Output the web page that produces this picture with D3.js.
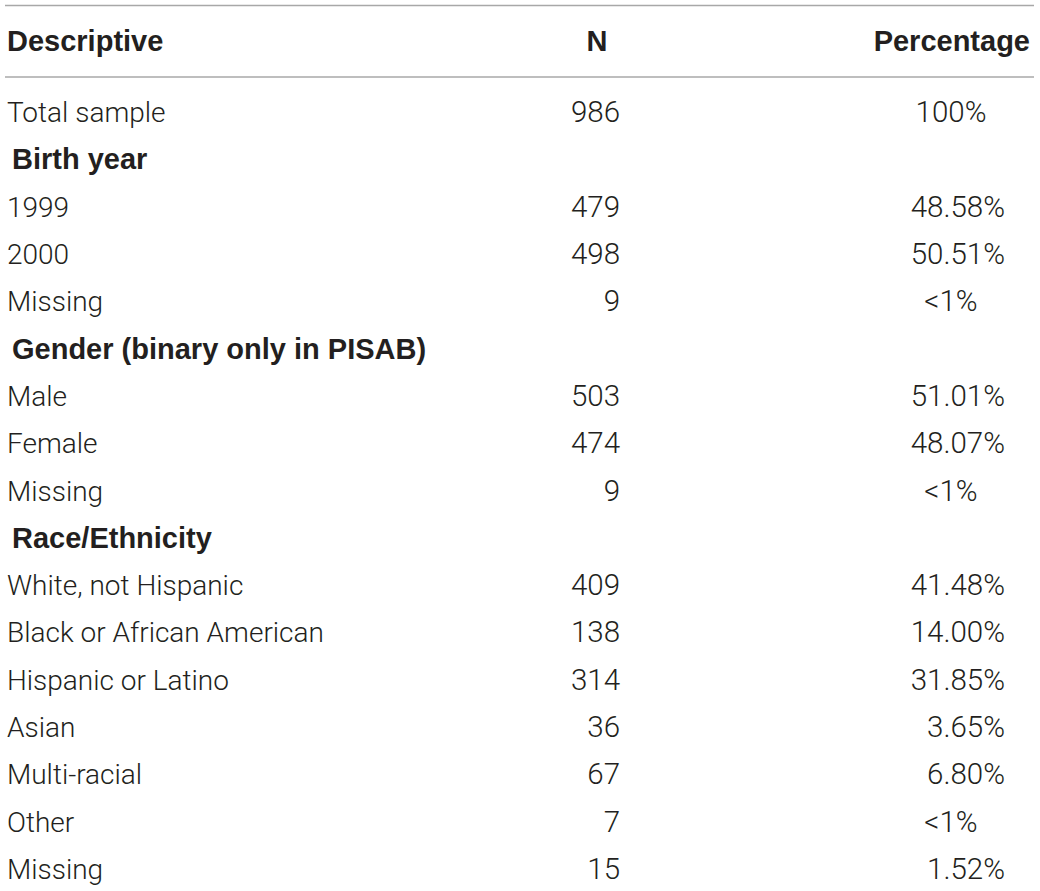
<!DOCTYPE html>
<html>
<head>
<meta charset="utf-8">
<script src="https://cdn.jsdelivr.net/npm/d3@7"></script>
<style>
    body { margin: 0; background: #fff; }
    svg { display: block; }
    .cell { font-family: Roboto, "Liberation Sans", sans-serif; font-weight: 300; font-size: 28px; fill: #231f20; }
    .num { font-size: 29.5px; }
    .bold { font-family: "Liberation Sans", Arial, sans-serif; font-weight: 700; font-size: 29px; fill: #231f20; }
</style>
</head>
<body>
<div id="container"><svg></svg></div>
<script>
// table contents
let headers = ['Descriptive', 'N', 'Percentage'];
let labels = ['Total sample', 'Birth year', '1999', '2000', 'Missing',
    'Gender (binary only in PISAB)', 'Male', 'Female', 'Missing',
    'Race/Ethnicity', 'White, not Hispanic', 'Black or African American',
    'Hispanic or Latino', 'Asian', 'Multi-racial', 'Other', 'Missing'];
let nValues = [986, null, 479, 498, 9, null, 503, 474, 9, null, 409, 138, 314, 36, 67, 7, 15];
let pctLabels = ['100%', '', '48.58%', '50.51%', '<1%', '', '51.01%', '48.07%', '<1%', '',
    '41.48%', '14.00%', '31.85%', '3.65%', '6.80%', '<1%', '1.52%'];
let sections = ['Birth year', 'Gender (binary only in PISAB)', 'Race/Ethnicity'];

let width = 1040;
let height = 891;

function draw_table() {
    let svg = d3.select('#container').select('svg')
        .attr('width', width)
        .attr('height', height);

    let rows = labels.map((d, i) => ({label: d, n: nValues[i], pct: pctLabels[i], section: sections.includes(d)}));

    // rows: first body row centre ~112, spacing ~47.3
    let y = d3.scaleBand()
        .domain(d3.range(rows.length))
        .range([88.5, 88.5 + 47.3 * rows.length]);

    let lineColor = '#a8a8a8';
    // rules
    svg.append('line')
        .attr('x1', 5).attr('x2', 1034)
        .attr('y1', 5.5).attr('y2', 5.5)
        .attr('stroke', lineColor).attr('stroke-width', 1.5);
    svg.append('line')
        .attr('x1', 5).attr('x2', 1034)
        .attr('y1', 77).attr('y2', 77)
        .attr('stroke', lineColor).attr('stroke-width', 1.5);

    // header
    let head = svg.append('g').attr('class', 'bold');
    head.append('text').attr('x', 7).attr('y', 51).text(headers[0]);
    head.append('text').attr('x', 597).attr('y', 51).attr('text-anchor', 'middle').text(headers[1]);
    head.append('text').attr('x', 1030).attr('y', 51).attr('text-anchor', 'end').text(headers[2]);

    let g = svg.append('g')
        .selectAll('g')
        .data(rows)
        .enter().append('g')
        .attr('transform', (d, i) => `translate(0, ${y(i) + y.bandwidth() / 2 + 10})`);

    g.append('text')
        .attr('class', d => d.section ? 'bold' : 'cell')
        .attr('x', d => d.section ? 12 : 7)
        .text(d => d.label);

    g.filter(d => d.n !== null).append('text')
        .attr('class', 'cell num')
        .attr('x', 620)
        .attr('text-anchor', 'end')
        .text(d => d.n);

    g.filter(d => d.pct !== '').append('text')
        .attr('class', 'cell num')
        .attr('x', d => d.pct.includes('.') ? 1005 : 951)
        .attr('text-anchor', d => d.pct.includes('.') ? 'end' : 'middle')
        .text(d => d.pct);
}

draw_table();
</script>
</body>
</html>
